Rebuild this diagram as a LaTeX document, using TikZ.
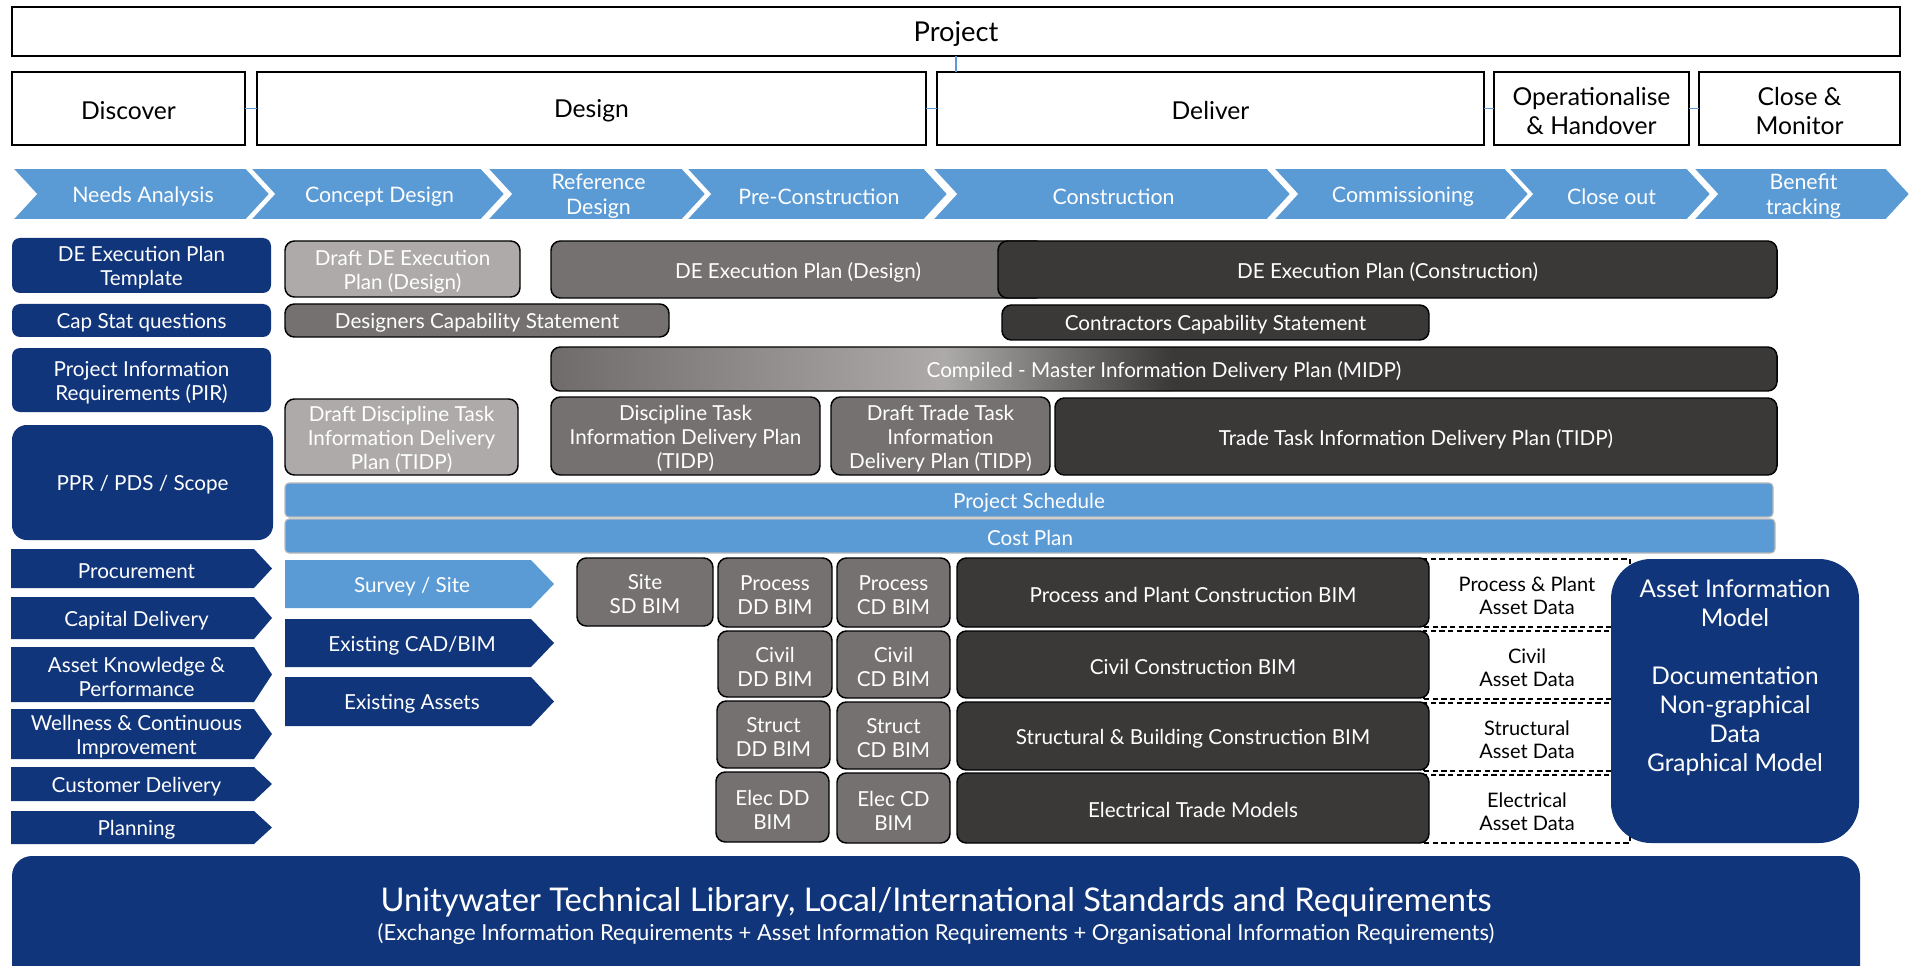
\documentclass[tikz,border=0pt]{standalone}
\usepackage{fontspec}
\setmainfont{Lato}
\definecolor{navy}{HTML}{10357A}
\definecolor{lblue}{HTML}{5B9BD5}
\definecolor{lgray}{HTML}{AEAAAA}
\definecolor{mgray}{HTML}{767171}
\definecolor{dgray}{HTML}{3B3838}
\tikzset{
  base/.style={inner sep=0pt, outer sep=0pt, align=center, font=\fontsize{15.5}{18}\selectfont},
  topbox/.style={base, draw=black, line width=1.5pt, fill=white, font=\fontsize{18.5}{22}\selectfont},
  navybox/.style={base, fill=navy, text=white, rounded corners=6pt},
  graybox/.style={base, draw=black, line width=1.1pt, rounded corners=7pt, text=white},
  lbox/.style={graybox, fill=lgray},
  mbox/.style={graybox, fill=mgray},
  dbox/.style={graybox, fill=dgray},
  bluebar/.style={base, fill=lblue, draw=gray!55, line width=0.8pt, rounded corners=3pt, text=white},
  conn/.style={draw=lblue, line width=1pt},
  dashbox/.style={base, draw=black, line width=1.2pt, dash pattern=on 4pt off 2.5pt, text=black, font=\fontsize{15}{17.5}\selectfont},
  chevtext/.style={base, text=white, font=\fontsize{16}{18.5}\selectfont},
}
% name, style, x1, y1, x2, y2, text
\newcommand\rb[7]{%
  \pgfmathsetmacro\rbw{(#5-#3)*0.75}%
  \pgfmathsetmacro\rbh{(#6-#4)*0.75}%
  \node[#2, minimum width=\rbw pt, minimum height=\rbh pt,
        label={[#2, draw=none, fill=none, minimum width=0pt, minimum height=0pt, yshift=-1.8pt]center:#7}]
        (#1) at ({(#3+#5)/2},{(#4+#6)/2}) {};}
% chevron: name, x1, x2, text
\newcommand\chev[4]{%
  \filldraw[fill=lblue, draw=white, line width=1.2pt] (#2,168) -- ({#3-24},168) -- (#3,194) -- ({#3-24},220) -- (#2,220) -- ({#2+24},194) -- cycle;
  \node[chevtext] (#1) at ({(#2+#3)/2+2},196.4) {#4};}
% right arrow box: name, colour, x1, y1, x2, y2, depth, text
\newcommand\arr[8]{%
  \fill[#2] (#3,#4) -- ({#5-#7},#4) -- (#5,{(#4+#6)/2}) -- ({#5-#7},#6) -- (#3,#6) -- cycle;
  \node[base, text=white] (#1) at ({(#3+#5-#7)/2+4},{(#4+#6)/2+2.4}) {#8};}
\begin{document}
\begin{tikzpicture}[x=0.75pt, y=-0.75pt]
\useasboundingbox (0,0) rectangle (1910,966);

% ---- top: project and phases
\rb{project}{topbox, font=\fontsize{20.5}{24}\selectfont}{12}{7}{1900}{56}{Project}
\rb{discover}{topbox}{12}{72}{245}{145}{Discover}
\rb{design}{topbox}{257}{72}{926}{145}{Design}
\rb{deliver}{topbox}{937}{72}{1484}{145}{Deliver}
\rb{oper}{topbox}{1494}{72}{1689}{145}{Operationalise\\\& Handover}
\rb{close}{topbox}{1699}{72}{1900}{145}{Close \&\\Monitor}
\draw[conn] (project.south) -- (project.south |- deliver.north);
\draw[conn] (discover) -- (design);
\draw[conn] (design) -- (deliver);
\draw[conn] (deliver) -- (oper);
\draw[conn] (oper) -- (close);

% ---- chevrons
\chev{c1}{12}{270}{Needs Analysis}
\chev{c2}{250}{505}{Concept Design}
\chev{c3}{487}{706}{Reference\\Design}
\chev{c4}{686}{948}{Pre-Construction}
\chev{c5}{932}{1291}{Construction}
\chev{c6}{1273}{1529}{Commissioning}
\chev{c7}{1508}{1711}{Close out}
\chev{c8}{1693}{1910}{Benefit\\tracking}

% ---- left navy column
\rb{detpl}{navybox}{12}{238}{271}{293}{DE Execution Plan\\Template}
\rb{capq}{navybox}{12}{304}{271}{337}{Cap Stat questions}
\rb{pir}{navybox}{12}{348}{271}{412}{Project Information\\Requirements (PIR)}
\rb{ppr}{navybox, rounded corners=11pt}{12}{425}{273}{540}{PPR / PDS / Scope}

% ---- plans
\rb{ddep}{lbox}{285}{241}{520}{297}{Draft DE Execution\\Plan (Design)}
\rb{dcap}{mbox}{285}{304}{669}{337}{Designers Capability Statement}
\rb{depd}{mbox}{551}{241}{1045}{298}{DE Execution Plan (Design)}
\rb{depc}{dbox}{998}{241}{1777}{298}{DE Execution Plan (Construction)}
\rb{ccap}{dbox}{1002}{305}{1429}{340}{Contractors Capability Statement}
\begin{scope}
  \clip[rounded corners=7pt] (551,347) rectangle (1777,391);
  \fill[dgray] (551,347) rectangle (1777,391);
  \shade[left color=mgray!95!black, right color=lgray] (551,347) rectangle (945,391);
  \shade[left color=lgray, right color=dgray] (943,347) rectangle (1172,391);
\end{scope}
\rb{midp}{graybox}{551}{347}{1777}{391}{Compiled - Master Information Delivery Plan (MIDP)}
\rb{ddtidp}{lbox}{285}{399}{518}{475}{Draft Discipline Task\\Information Delivery\\Plan (TIDP)}
\rb{dtidp}{mbox}{551}{397}{820}{475}{Discipline Task\\Information Delivery Plan\\(TIDP)}
\rb{drtidp}{mbox}{831}{397}{1050}{475}{Draft Trade Task\\Information\\Delivery Plan (TIDP)}
\rb{ttidp}{dbox}{1055}{398}{1777}{475}{Trade Task Information Delivery Plan (TIDP)}
\rb{sched}{bluebar}{285}{483}{1773}{517}{Project Schedule}
\rb{cost}{bluebar}{285}{519}{1775}{553}{Cost Plan}

% ---- left arrows
\arr{proc}{navy}{11}{549}{272}{588}{18}{Procurement}
\arr{capd}{navy}{11}{597}{272}{639}{18}{Capital Delivery}
\arr{akp}{navy}{11}{647}{272}{702}{18}{Asset Knowledge \&\\Performance}
\arr{wci}{navy}{11}{709}{272}{759}{18}{Wellness \& Continuous\\Improvement}
\arr{cdel}{navy}{11}{767}{272}{801}{18}{Customer Delivery}
\arr{plan}{navy}{11}{811}{272}{844}{18}{Planning}
\arr{survey}{lblue}{285}{560}{554}{608}{23}{Survey / Site}
\arr{ecad}{navy}{285}{619}{554}{667}{23}{Existing CAD/BIM}
\arr{eass}{navy}{285}{677}{554}{726}{23}{Existing Assets}

% ---- BIM grid
\rb{ssd}{mbox}{577}{558}{713}{626}{Site\\SD BIM}
\rb{pdd}{mbox}{718}{558}{832}{627}{Process\\DD BIM}
\rb{pcd}{mbox}{837}{558}{950}{627}{Process\\CD BIM}
\rb{cdd}{mbox}{718}{631}{832}{697}{Civil\\DD BIM}
\rb{ccd}{mbox}{837}{631}{950}{698}{Civil\\CD BIM}
\rb{sdd}{mbox}{717}{701}{830}{768}{Struct\\DD BIM}
\rb{scd}{mbox}{837}{702}{950}{769}{Struct\\CD BIM}
\rb{edd}{mbox}{716}{772}{829}{842}{Elec DD\\BIM}
\rb{ecd}{mbox}{837}{773}{950}{843}{Elec CD\\BIM}

% ---- asset data (dashed)
\rb{dpp}{dashbox}{1424}{559}{1630}{627}{Process \& Plant\\Asset Data}
\rb{dcv}{dashbox}{1424}{631}{1630}{699}{Civil\\Asset Data}
\rb{dst}{dashbox}{1424}{703}{1630}{771}{Structural\\Asset Data}
\rb{del}{dashbox}{1424}{775}{1630}{843}{Electrical\\Asset Data}

\rb{ppc}{dbox}{957}{558}{1429}{627}{Process and Plant Construction BIM}
\rb{ccb}{dbox}{957}{631}{1429}{698}{Civil Construction BIM}
\rb{sbc}{dbox}{957}{702}{1429}{770}{Structural \& Building Construction BIM}
\rb{etm}{dbox}{957}{773}{1429}{843}{Electrical Trade Models}

% ---- asset information model
\rb{aim}{navybox, rounded corners=30pt}{1611}{559}{1859}{843}{}
\node[base, text=white, font=\fontsize{18.3}{21.75}\selectfont] (aimtext) at (1735,678)
  {Asset Information\\Model\\\mbox{}\\Documentation\\Non-graphical\\Data\\Graphical Model};

% ---- bottom banner
\rb{utl}{navybox, rounded corners=15pt}{12}{856}{1860}{995}{}
\node[base, text=white, font=\fontsize{24.5}{28}\selectfont] (utl1) at (936,902)
  {Unitywater Technical Library, Local/International Standards and Requirements};
\node[base, text=white, font=\fontsize{16.5}{19}\selectfont] (utl2) at (936,934)
  {(Exchange Information Requirements + Asset Information Requirements + Organisational Information Requirements)};
\end{tikzpicture}
\end{document}
